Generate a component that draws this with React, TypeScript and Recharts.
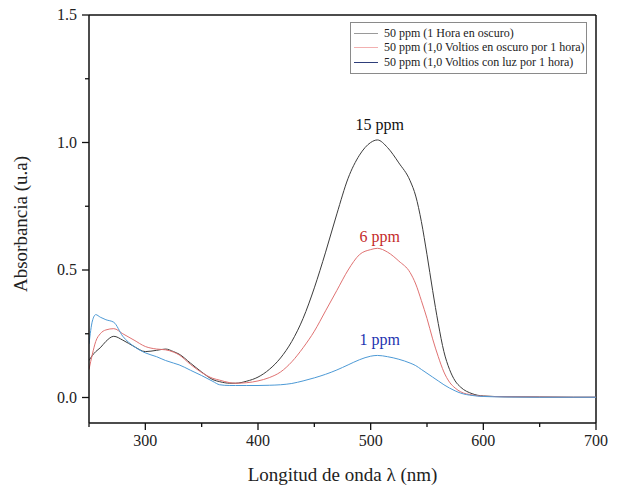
import { Legend, Line, LineChart, ReferenceDot, ReferenceLine, XAxis, YAxis } from "recharts";

const wavelengths = [
    250, 253, 256, 260, 265, 272, 280, 290, 300, 310, 318, 325, 330, 340, 350, 360, 366, 375, 380, 390,
    400, 410, 420, 430, 440, 450, 460, 470, 480, 490, 500, 506, 515, 525, 535, 540, 545, 550, 555, 560,
    565, 570, 575, 580, 590, 600, 620, 650, 680, 700,
];

const dark1h = [
    0.145, 0.165, 0.18, 0.195, 0.22, 0.24, 0.225, 0.2, 0.18, 0.185, 0.19, 0.18, 0.17, 0.135, 0.1, 0.07, 0.062, 0.056, 0.056, 0.064,
    0.08, 0.11, 0.155, 0.22, 0.31, 0.43, 0.57, 0.72, 0.86, 0.95, 1.0, 1.01, 0.98, 0.92, 0.85, 0.79, 0.69, 0.56, 0.42, 0.29,
    0.18, 0.11, 0.065, 0.04, 0.015, 0.006, 0.003, 0.002, 0.001, 0.001,
];

const voltsDark = [
    0.11, 0.17, 0.22, 0.25, 0.265, 0.27, 0.25, 0.225, 0.2, 0.19, 0.187, 0.178, 0.167, 0.13, 0.098, 0.075, 0.068, 0.058, 0.056, 0.058,
    0.065, 0.078, 0.1, 0.14, 0.195, 0.26, 0.34, 0.42, 0.5, 0.56, 0.58, 0.585, 0.57, 0.535, 0.49, 0.445, 0.38, 0.31, 0.23, 0.16,
    0.1, 0.06, 0.037, 0.022, 0.01, 0.005, 0.003, 0.002, 0.001, 0.001,
];

const voltsLight = [
    0.21, 0.3, 0.325, 0.315, 0.305, 0.295, 0.24, 0.2, 0.175, 0.16, 0.145, 0.135, 0.128, 0.107, 0.086, 0.063, 0.05, 0.047, 0.047, 0.047,
    0.047, 0.048, 0.05, 0.055, 0.065, 0.077, 0.091, 0.108, 0.128, 0.148, 0.162, 0.165, 0.16, 0.15, 0.135, 0.125, 0.11, 0.095, 0.08, 0.065,
    0.05, 0.037, 0.026, 0.017, 0.008, 0.004, 0.002, 0.001, 0.001, 0.001,
];

const xTicks = [250, 300, 350, 400, 450, 500, 550, 600, 650, 700];
const yTicks = [0, 0.25, 0.5, 0.75, 1, 1.25, 1.5];

const data = wavelengths.map((wl, i) => ({ wl, a: dark1h[i], b: voltsDark[i], c: voltsLight[i] }));

const series = [
    { key: "a", name: "50 ppm (1 Hora en oscuro)", color: "#3c3c3c", legend: "#9a9a9a" },
    { key: "b", name: "50 ppm (1,0 Voltios en oscuro por 1 hora)", color: "#e07272", legend: "#f2b0b0" },
    { key: "c", name: "50 ppm (1,0 Voltios con luz por 1 hora)", color: "#4d9ad6", legend: "#2e3e7a" },
];

const peaks = [
    { x: 508, y: 1.01, text: "15 ppm", color: "#111111", dy: -10 },
    { x: 508, y: 0.585, text: "6 ppm", color: "#c42a2a", dy: -6 },
    { x: 508, y: 0.165, text: "1 ppm", color: "#2233b0", dy: -10 },
];

const FONT = "Liberation Serif, Tinos, DejaVu Serif, serif";

function XTick({ x, y, payload }: any) {
    const major = payload.value % 100 === 0;
    return (
        <g>
            <line x1={x} y1={y} x2={x} y2={y + (major ? 7 : 4)} stroke="#111" strokeWidth={1.3} />
            {major && payload.value !== 250 && (
                <text x={x} y={y + 23} textAnchor="middle" fontSize={16} fill="#222" style={{ fontFamily: FONT }}>
                    {payload.value}
                </text>
            )}
        </g>
    );
}

function YTick({ x, y, payload }: any) {
    const major = Math.abs((payload.value * 2) % 1) < 1e-6;
    return (
        <g>
            <line x1={x} y1={y} x2={x - (major ? 7 : 4)} y2={y} stroke="#111" strokeWidth={1.3} />
            {major && (
                <text x={x - 12} y={y + 5} textAnchor="end" fontSize={16} fill="#222" style={{ fontFamily: FONT }}>
                    {payload.value.toFixed(1)}
                </text>
            )}
        </g>
    );
}

function LegendBox() {
    return (
        <div style={{ width: 237, boxSizing: "border-box", border: "1px solid #8a8a8a", background: "#fff", padding: "3px 0 3px 3px", fontFamily: FONT, fontSize: 12, color: "#222" }}>
            {series.map((s) => (
                <div key={s.key} style={{ display: "flex", alignItems: "center", height: 14.5, whiteSpace: "nowrap" }}>
                    <span style={{ display: "inline-block", width: 24, borderTop: `1px solid ${s.legend}`, marginRight: 6 }} />
                    <span>{s.name}</span>
                </div>
            ))}
        </div>
    );
}

export default function App() {
    return (
        <div style={{ position: "absolute", left: 0, top: 0, width: 621, height: 491, background: "#fff", fontFamily: FONT }}>
            <LineChart width={621} height={491} data={data} margin={{ top: 15, right: 25, bottom: 38, left: 0 }} style={{ fontFamily: FONT }}>
                <XAxis
                    dataKey="wl"
                    type="number"
                    domain={[250, 700]}
                    ticks={xTicks}
                    allowDataOverflow
                    height={30}
                    tickSize={0}
                    tickMargin={0}
                    tickLine={false}
                    tick={<XTick />}
                    axisLine={{ stroke: "#111", strokeWidth: 1.5 }}
                    label={{ value: "Longitud de onda λ (nm)", position: "insideBottom", offset: -28, fontSize: 19, fill: "#222", style: { fontFamily: FONT } }}
                />
                <YAxis
                    type="number"
                    domain={[-0.1, 1.5]}
                    ticks={yTicks}
                    allowDataOverflow
                    width={89}
                    tickSize={0}
                    tickMargin={0}
                    tickLine={false}
                    tick={<YTick />}
                    axisLine={{ stroke: "#111", strokeWidth: 1.5 }}
                    label={{ value: "Absorbancia (u.a)", angle: -90, position: "insideLeft", offset: 20, dy: 5, fontSize: 19, fill: "#222", style: { textAnchor: "middle", fontFamily: FONT } }}
                />
                <ReferenceLine y={1.5} stroke="#111" strokeWidth={1.5} />
                <ReferenceLine x={700} stroke="#111" strokeWidth={1.5} />
                {series.map((s) => (
                    <Line
                        key={s.key}
                        dataKey={s.key}
                        name={s.name}
                        type="monotone"
                        stroke={s.color}
                        strokeWidth={1}
                        dot={false}
                        isAnimationActive={false}
                    />
                ))}
                {peaks.map((p) => (
                    <ReferenceDot
                        key={p.text}
                        x={p.x}
                        y={p.y}
                        r={0}
                        stroke="none"
                        label={{ value: p.text, position: "top", offset: -p.dy, fontSize: 16, fill: p.color, style: { fontFamily: FONT } }}
                    />
                ))}
                <Legend
                    layout="vertical"
                    align="center"
                    verticalAlign="middle"
                    wrapperStyle={{ top: 22, left: 350, width: 237 }}
                    content={<LegendBox />}
                />
            </LineChart>
        </div>
    );
}
